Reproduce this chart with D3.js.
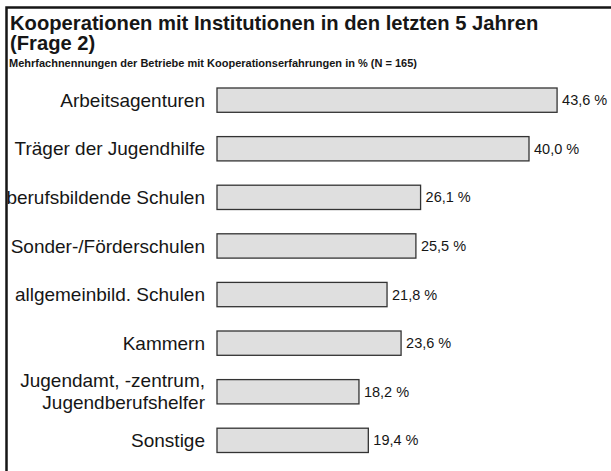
<!DOCTYPE html>
<html>
<head>
<meta charset="utf-8">
<script src="https://cdn.jsdelivr.net/npm/d3@7"></script>
<style>
  body { margin: 0; background: #fff; }
  text { font-family: "Liberation Sans", Arial, sans-serif; fill: #161616; }
</style>
</head>
<body>
<div id="chart"></div>
<script>

var title1 = "Kooperationen mit Institutionen in den letzten 5 Jahren";
var title2 = "(Frage 2)";
var subtitle = "Mehrfachnennungen der Betriebe mit Kooperationserfahrungen in % (N = 165)";

var categories = [
  "Arbeitsagenturen",
  "Träger der Jugendhilfe",
  "berufsbildende Schulen",
  "Sonder-/Förderschulen",
  "allgemeinbild. Schulen",
  "Kammern",
  "Jugendamt, -zentrum,|Jugendberufshelfer",
  "Sonstige"
];
var values = [43.6, 40.0, 26.1, 25.5, 21.8, 23.6, 18.2, 19.4];

var width = 611, height = 471;

var svg = d3.select("#chart")
  .append("svg")
  .attr("width", width)
  .attr("height", height);

// frame (left + top only, rest is cut off)
svg.append("path")
  .attr("d", "M6.5,471 V7.5 H611")
  .attr("fill", "none")
  .attr("stroke", "#161616")
  .attr("stroke-width", 2.5);

svg.append("text")
  .attr("x", 10).attr("y", 30)
  .style("font-size", "20.2px").style("font-weight", "bold")
  .text(title1);
svg.append("text")
  .attr("x", 10).attr("y", 50)
  .style("font-size", "20.2px").style("font-weight", "bold")
  .text(title2);
svg.append("text")
  .attr("x", 9).attr("y", 67)
  .style("font-size", "11px").style("font-weight", "bold")
  .text(subtitle);

var x = d3.scaleLinear().domain([0, 50]).range([217, 607]);
var y = d3.scaleBand()
  .domain(categories)
  .range([88, 452.5])
  .paddingInner(0.5)
  .paddingOuter(0);

var de = d3.formatLocale({ decimal: ",", thousands: ".", grouping: [3], currency: ["", " €"] });
var fmt = de.format(".1f");

var rows = svg.selectAll(".row")
  .data(categories)
  .enter().append("g")
  .attr("class", "row");

rows.append("rect")
  .attr("x", x(0))
  .attr("y", function(d) { return y(d); })
  .attr("width", function(d, i) { return x(values[i]) - x(0); })
  .attr("height", y.bandwidth())
  .attr("fill", "#dfdfdf")
  .attr("stroke", "#333")
  .attr("stroke-width", 1.3);

rows.append("text")
  .attr("x", function(d, i) { return x(values[i]) + 5; })
  .attr("y", function(d) { return y(d) + y.bandwidth() / 2; })
  .attr("dy", "0.35em")
  .style("font-size", "14.5px")
  .text(function(d, i) { return fmt(values[i]) + " %"; });

// category labels, may be two lines (split on |)
rows.append("text")
  .attr("text-anchor", "end")
  .style("font-size", "19px")
  .each(function(d) {
    var lines = d.split("|");
    var cy = y(d) + y.bandwidth() / 2;
    var lh = 22;
    var t = d3.select(this);
    lines.forEach(function(l, k) {
      t.append("tspan")
        .attr("x", 205)
        .attr("y", cy + (k - (lines.length - 1) / 2) * lh)
        .attr("dy", "0.35em")
        .text(l);
    });
  });

</script>
</body>
</html>
